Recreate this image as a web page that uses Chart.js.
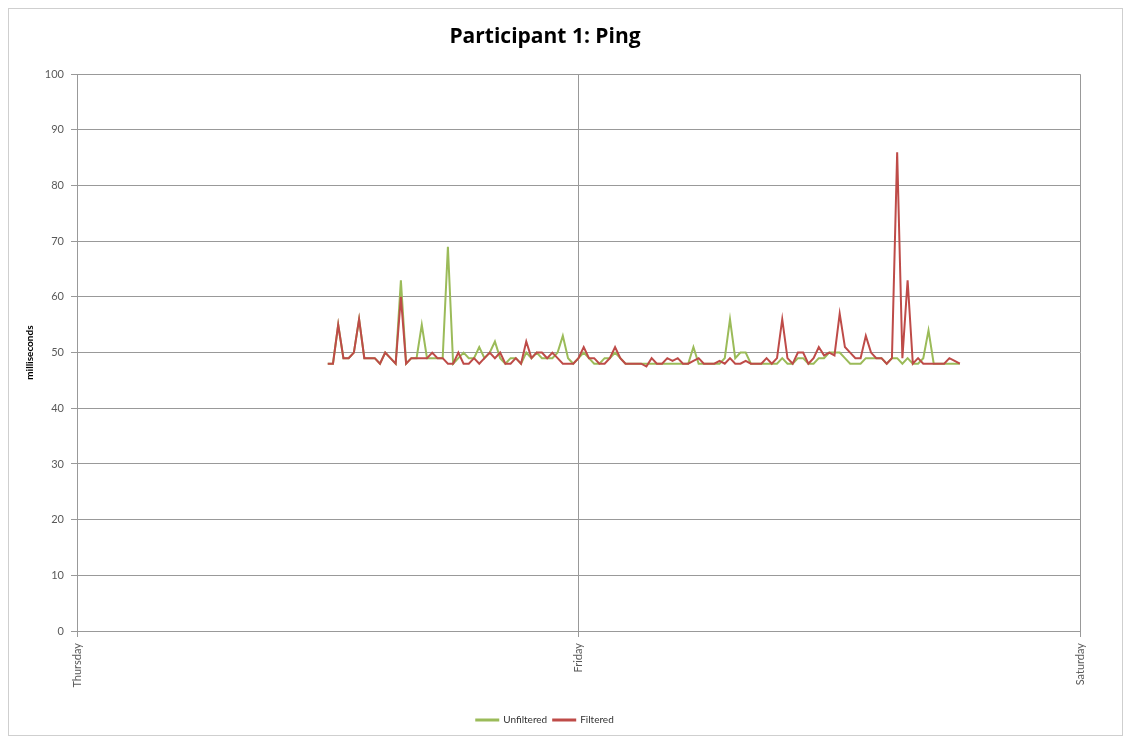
<!DOCTYPE html>
<html lang="en">
<head>
  <meta charset="UTF-8">
  <title>Participant 1: Ping</title>
  <script src="https://cdn.jsdelivr.net/npm/chart.js"></script>
  <style>
    body { margin: 0; background: #fff; }
    #wrap { position: relative; width: 1130px; height: 740px; }
    #frame {
      position: absolute; left: 8px; top: 8px; width: 1113px; height: 726px;
      border: 1px solid #cfcfcf; pointer-events: none;
    }
  </style>
</head>
<body>
  <div id="wrap">
    <canvas id="pingChart" width="1130" height="740"></canvas>
    <div id="frame"></div>
  </div>
  <script>
    // x axis: days from Thursday 00:00
    const dayLabels = ['Thursday', 'Friday', 'Saturday'];
    // samples every 15 minutes starting Thursday 12:00
    const startDay = 0.5;
    const stepDays = 1 / 96;

    // ping in milliseconds
    const unfiltered = [
      48, 48, 55, 49, 49, 50, 56, 49, 49, 49, 48, 50, 49, 48, 63, 48, 49, 49, 55, 49,
      49, 49, 49, 69, 48, 49, 50, 49, 49, 51, 49, 50, 52, 49, 48, 49, 49, 48, 50, 49,
      50, 49, 49, 49, 50, 53, 49, 48, 49, 50, 49, 48, 48, 49, 49, 50, 49, 48, 48, 48,
      48, 48, 48, 48, 48, 48, 48, 48, 48, 48, 51, 48, 48, 48, 48, 48, 49, 56, 49, 50,
      50, 48, 48, 48, 48, 48, 48, 49, 48, 48, 49, 49, 48, 48, 49, 49, 50, 50, 50, 49,
      48, 48, 48, 49, 49, 49, 49, 48, 49, 49, 48, 49, 48, 48, 49, 54, 48, 48, 48, 48,
      48, 48
    ];
    const filtered = [
      48, 48, 55, 49, 49, 50, 56, 49, 49, 49, 48, 50, 49, 48, 60, 48, 49, 49, 49, 49,
      50, 49, 49, 48, 48, 50, 48, 48, 49, 48, 49, 50, 49, 50, 48, 48, 49, 48, 52, 49,
      50, 50, 49, 50, 49, 48, 48, 48, 49, 51, 49, 49, 48, 48, 49, 51, 49, 48, 48, 48,
      48, 47.5, 49, 48, 48, 49, 48.5, 49, 48, 48, 48.5, 49, 48, 48, 48, 48.5, 48, 49, 48, 48,
      48.5, 48, 48, 48, 49, 48, 49, 56, 49, 48, 50, 50, 48, 49, 51, 49.5, 50, 49.5, 57, 51,
      50, 49, 49, 53, 50, 49, 49, 48, 49, 86, 49, 63, 48, 49, 48, 48, 48, 48, 48, 49,
      48.5, 48
    ];

    const toPoints = arr => arr.map((v, i) => ({ x: startDay + i * stepDays, y: v }));

    const tickFont = { family: 'Lato', size: 11 };

    // Filtered is dataset 0 so it is drawn on top; legend reversed to list Unfiltered first
    new Chart(document.getElementById('pingChart'), {
      type: 'line',
      data: {
        datasets: [
          {
            label: 'Filtered',
            data: toPoints(filtered),
            borderColor: '#be4b48',
            backgroundColor: '#be4b48',
            borderWidth: 2,
            pointRadius: 0,
            tension: 0
          },
          {
            label: 'Unfiltered',
            data: toPoints(unfiltered),
            borderColor: '#9bbb59',
            backgroundColor: '#9bbb59',
            borderWidth: 2,
            pointRadius: 0,
            tension: 0
          }
        ]
      },
      options: {
        responsive: false,
        animation: false,
        layout: { padding: { left: 10, right: 50, top: 10, bottom: 5 } },
        plugins: {
          title: {
            display: true,
            text: 'Participant 1: Ping',
            color: '#000',
            font: { family: 'Open Sans', size: 21, weight: 'bold' },
            padding: { top: 14, bottom: 25 }
          },
          legend: {
            position: 'bottom',
            reverse: true,
            labels: {
              color: '#333',
              font: { family: 'Lato', size: 10 },
              boxWidth: 22,
              boxHeight: 1,
              padding: 6
            }
          },
          tooltip: { enabled: false }
        },
        scales: {
          x: {
            type: 'linear',
            min: 0,
            max: 2,
            afterFit: s => { s.height = 78; },
            ticks: {
              stepSize: 1,
              minRotation: 90,
              maxRotation: 90,
              padding: 6,
              color: '#595959',
              font: tickFont,
              callback: v => dayLabels[v]
            },
            grid: { color: '#999', tickLength: 6 },
            border: { color: '#999' }
          },
          y: {
            min: 0,
            max: 100,
            afterFit: s => { s.width = 67; },
            ticks: { stepSize: 10, padding: 7, color: '#595959', font: tickFont },
            grid: { color: '#999', tickLength: 6 },
            border: { color: '#999' },
            title: {
              display: true,
              text: 'milliseconds',
              color: '#000',
              font: { family: 'Lato', size: 10, weight: 'bold' },
              padding: { top: 14, bottom: 0 }
            }
          }
        }
      }
    });
  </script>
</body>
</html>
